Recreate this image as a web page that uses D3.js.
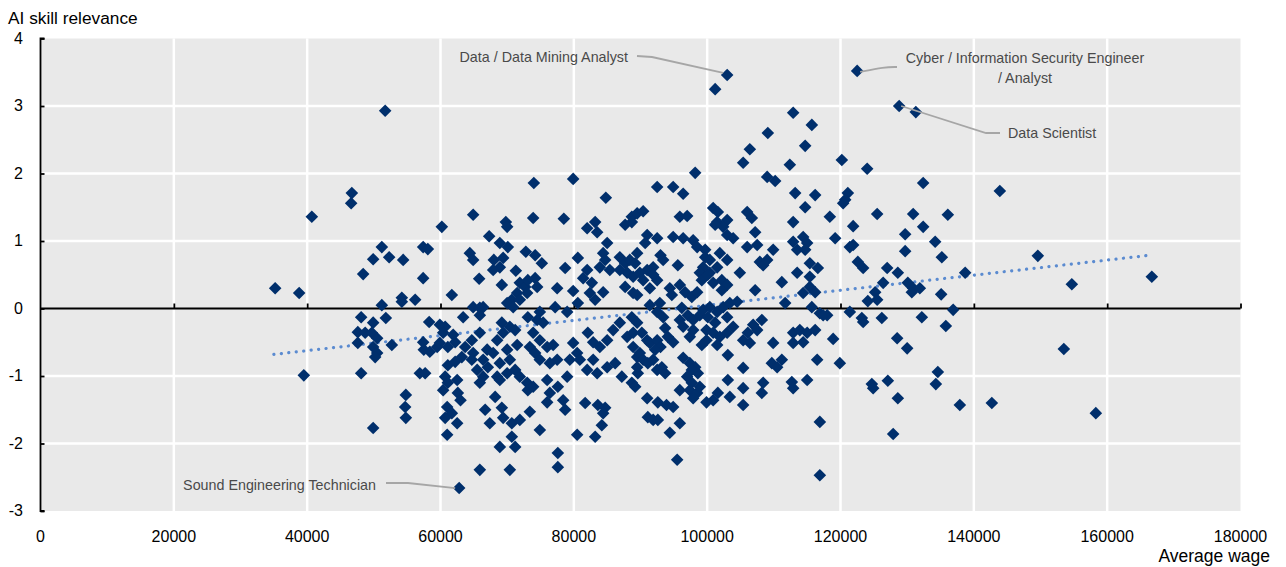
<!DOCTYPE html>
<html>
<head>
<meta charset="utf-8">
<script src="https://cdn.jsdelivr.net/npm/d3@7/dist/d3.min.js"></script>
<style>
html,body{margin:0;padding:0;background:#fff;}
svg{display:block;font-family:"Liberation Sans",Arial,sans-serif;}
</style>
</head>
<body>
<svg id="chart" width="1286" height="567"></svg>
<script>
// ---- data ----
const xTicks = [0,20000,40000,60000,80000,100000,120000,140000,160000,180000];
const yTicks = [-3,-2,-1,0,1,2,3,4];
const xLabel = "Average wage";
const yLabel = "AI skill relevance";

// occupations: [average wage, AI skill relevance]
const occupations = [
[35200,0.3],[38800,0.23],[40700,1.36],[39500,-0.99],[51700,2.93],[46700,1.71],[46600,1.56],[51200,0.91],[49900,0.73],[52300,0.76],
[54400,0.72],[48400,0.51],[57400,0.91],[58100,0.88],[57400,0.45],[51200,0.05],[54200,0.16],[54200,0.1],[56200,0.13],[48100,-0.13],
[51800,-0.14],[49900,-0.21],[47600,-0.35],[48700,-0.36],[49700,-0.36],[50500,-0.44],[49900,-0.57],[47600,-0.51],[50500,-0.66],[50200,-0.72],
[52700,-0.54],[48100,-0.96],[58300,-0.2],[57500,-0.61],[58400,-0.64],[59500,-0.57],[56900,-0.96],[57700,-0.96],[54800,-1.28],[54700,-1.46],
[54800,-1.62],[49900,-1.77],[60200,1.21],
[74000,1.86],[79900,1.92],[84800,1.64],[64900,1.39],[73900,1.34],[78500,1.33],[69800,1.28],[70000,1.21],[82000,1.19],[83200,1.28],
[83500,1.13],[87700,1.24],[88700,1.36],[89500,1.41],[67300,1.07],[68900,0.97],[70100,0.91],[64400,0.82],[64900,0.72],[72800,0.84],
[74200,0.79],[75200,0.67],[68000,0.72],[68900,0.61],[67900,0.57],[69400,0.75],[71300,0.56],[65800,0.44],[69200,0.35],[78700,0.6],
[80600,0.75],[85000,0.97],[84400,0.82],[84700,0.72],[83900,0.61],[85400,0.57],[86900,0.76],[87700,0.67],[88400,0.72],[89500,0.82],
[86900,0.57],[88000,0.53],[88900,0.47],[87700,0.32],[88900,0.23],[82000,0.57],[81400,0.45],[82700,0.38],[82400,0.23],[83200,0.13],
[84400,0.24],[77500,0.3],[79900,0.26],[80600,0.08],[79000,-0.05],[71900,0.38],[72700,0.32],[73100,0.42],[74200,0.45],[74500,0.32],
[71500,0.23],[70700,0.13],[70000,0.08],[70900,0.02],[71900,0.13],[73000,0.23],[61700,0.2],[64900,0.02],[65900,0.01],[66400,0.02],
[65900,-0.1],[63400,-0.13],[77200,0.02],[74900,-0.05],[74500,-0.17],[75400,-0.21],[73100,-0.13],[60700,-0.27],[60400,-0.36],[62200,-0.5],
[61100,-0.57],[59900,-0.51],[64700,-0.47],[63700,-0.57],[63200,-0.72],[64900,-0.66],[67000,-0.61],[66400,-0.76],[67900,-0.66],[69200,-0.21],
[69400,-0.36],[68500,-0.47],[70400,-0.27],[71200,-0.32],[71500,-0.54],[70000,-0.61],[70400,-0.76],[68900,-0.81],[73900,-0.36],[74900,-0.47],
[76000,-0.57],[73400,-0.57],[74200,-0.66],[74900,-0.76],[76900,-0.54],[77500,-0.76],[76400,-0.81],[79900,-0.51],[80500,-0.66],[79400,-0.76],
[80900,-0.76],[82100,-0.36],[82900,-0.5],[83900,-0.57],[85000,-0.47],[85900,-0.32],[86900,-0.21],[88000,-0.42],[88900,-0.57],[89500,-0.72],
[82900,-0.76],[82000,-0.91],[83500,-0.96],[85000,-0.87],[86200,-0.81],[87200,-1.01],[88700,-1.1],[89600,-0.96],[60700,-1.01],[61100,-1.1],
[60400,-1.21],[62500,-1.06],[62600,-1.25],[64700,-0.76],[65500,-0.91],[66400,-1.01],[65900,-1.1],[67100,-0.87],[68500,-1.01],[68900,-1.06],
[70000,-0.96],[71200,-0.91],[71900,-1.01],[73000,-1.1],[73100,-1.21],[73900,-1.16],[76000,-1.06],[77600,-1.16],[76400,-1.25],[79000,-1.01],
[63000,-1.36],[61000,-1.46],[61700,-1.55],[62500,-1.7],[60700,-1.62],[61000,-1.87],[66700,-1.5],[67400,-1.7],[69200,-1.47],[69400,-1.62],
[70700,-1.7],[71900,-1.65],[73400,-1.53],[68200,-1.31],[76000,-1.39],[78400,-1.36],[78700,-1.5],[74900,-1.8],[70700,-1.9],[71200,-2.05],
[68900,-2.05],[80500,-1.87],[83200,-1.9],[84200,-1.73],[81700,-1.4],[83600,-1.43],[84700,-1.47],[84400,-1.55],[77600,-2.14],[77600,-2.35],
[65900,-2.39],[70400,-2.39],[62800,-2.66],[61100,-0.84],[62200,-0.79],[59900,-0.24],[57400,-0.5],[61900,-0.39],[65900,-0.36],
[98200,2.01],[105400,2.16],[112400,2.13],[92500,1.8],[94900,1.8],[96400,1.7],[109000,1.95],[110200,1.89],[113200,1.71],[116200,1.68],
[114700,1.5],[90400,1.44],[88700,1.28],[95900,1.36],[97000,1.37],[100900,1.49],[101600,1.43],[106000,1.43],[106700,1.34],[101500,1.28],
[103000,1.31],[102400,1.21],[101200,1.24],[112900,1.28],[107200,1.13],[91000,1.09],[92500,1.04],[90700,0.97],[94900,1.06],[96400,1.04],
[97900,1.01],[98500,0.91],[99700,0.87],[103000,1.09],[103900,1.04],[106000,0.91],[107500,0.94],[109900,0.87],[112900,0.99],[114400,1.06],
[115000,0.97],[113500,0.87],[114700,0.87],[89200,0.67],[93000,0.79],[93400,0.72],[91900,0.61],[91000,0.57],[89900,0.53],[95600,0.64],
[99700,0.76],[100400,0.72],[101900,0.82],[103000,0.72],[101500,0.61],[99400,0.61],[98900,0.53],[100400,0.53],[107900,0.69],[108400,0.64],
[109000,0.72],[104900,0.53],[115400,0.67],[116600,0.6],[113500,0.53],[115400,0.47],[111200,0.39],[90400,0.42],[91400,0.3],[89500,0.2],
[92500,0.42],[91900,0.5],[94400,0.3],[94700,0.2],[95900,0.35],[96700,0.24],[97700,0.17],[98500,0.24],[99200,0.42],[100100,0.5],
[100900,0.38],[102200,0.42],[103000,0.35],[102200,0.27],[107200,0.27],[115400,0.32],[116200,0.24],[114400,0.23],[111700,0.08],[115700,0.02],
[116900,-0.07],[118000,-0.1],[91400,0.05],[92900,0.08],[92500,-0.05],[93400,-0.13],[96200,0.01],[97100,-0.1],[97900,-0.17],[98900,-0.1],
[99400,-0.02],[100400,0.02],[101500,-0.05],[100100,-0.13],[101200,-0.21],[99900,-0.32],[100900,-0.36],[101900,-0.42],[99900,-0.47],[99200,-0.54],
[101500,-0.54],[102400,0.02],[103400,0.08],[104500,0.1],[103000,-0.13],[103900,-0.27],[103000,-0.36],[108200,-0.17],[106900,-0.24],[107500,-0.32],
[106100,-0.36],[105400,-0.47],[106400,-0.51],[88700,-0.13],[89500,-0.21],[88900,-0.36],[90200,-0.36],[91000,-0.47],[91400,-0.51],[92500,-0.47],
[93000,-0.57],[92200,-0.61],[94900,-0.5],[94100,-0.42],[93700,-0.29],[96400,-0.27],[95900,-0.17],[97400,-0.42],[97900,-0.32],[103100,-0.69],
[109900,-0.51],[112900,-0.36],[113900,-0.32],[115000,-0.36],[116200,-0.32],[112900,-0.51],[114400,-0.5],[116500,-0.76],[89900,-0.66],[90400,-0.76],
[89500,-0.87],[91100,-0.81],[91900,-0.76],[93200,-0.87],[93700,-0.96],[92500,-0.91],[96400,-0.73],[97400,-0.81],[98200,-0.87],[98600,-0.96],
[97700,-0.91],[105400,-0.88],[109700,-0.81],[111200,-0.76],[110500,-0.87],[89200,-1.16],[97000,-1.01],[97700,-1.1],[95900,-1.21],[97400,-1.21],
[98500,-1.25],[98900,-1.16],[97900,-1.33],[103100,-1.06],[103400,-1.31],[101600,-1.25],[100900,-1.36],[99900,-1.39],[105400,-1.18],[105400,-1.43],
[108400,-1.1],[108200,-1.25],[112700,-1.09],[112900,-1.18],[115000,-1.06],[91000,-1.33],[92600,-1.39],[93900,-1.43],[94900,-1.46],[91100,-1.61],
[91900,-1.65],[92600,-1.65],[94400,-1.84],[95900,-1.7],[116900,-1.68],[95500,-2.24],[116900,-2.47],
[128800,3.0],[131300,2.91],[120200,2.2],[124000,2.07],[132400,1.86],[143900,1.74],[121100,1.71],[120700,1.61],[120400,1.56],[118400,1.36],
[125500,1.4],[130900,1.4],[136100,1.39],[121900,1.22],[132400,1.21],[119200,1.04],[129700,1.1],[134200,0.99],[121400,0.91],[121900,0.94],
[129700,0.85],[135200,0.76],[122600,0.69],[123400,0.6],[127000,0.6],[128600,0.53],[130100,0.38],[130900,0.3],[131900,0.3],[130700,0.24],
[126400,0.38],[125200,0.24],[125500,0.13],[124100,0.11],[135100,0.21],[138700,0.53],[117400,-0.1],[121400,-0.05],[123200,-0.14],[123400,-0.2],
[126200,-0.14],[132200,-0.13],[136900,-0.02],[135800,-0.26],[118900,-0.45],[128500,-0.44],[130000,-0.59],[119900,-0.81],[124700,-1.12],[124900,-1.18],
[127100,-1.07],[128600,-1.33],[134600,-0.94],[134300,-1.12],[137900,-1.43],[142700,-1.4],[127900,-1.86],[122500,3.52],[103000,3.46],[101200,3.25],
[149600,0.78],[154700,0.36],[166700,0.47],[153500,-0.6],[158300,-1.55],
[112900,2.9],[115700,2.72],[109100,2.6],[114700,2.41],[106400,2.36]
];

// linear trend (start and end of the dotted fit line)
const trendX = [35000,166500];
const trendY = [-0.68,0.79];

// labelled occupations
const callouts = [
  {lines:["Data / Data Mining Analyst"], point:[103000,3.46]},
  {lines:["Cyber / Information Security Engineer","/ Analyst"], point:[122500,3.52]},
  {lines:["Data Scientist"], point:[128800,3.0]},
  {lines:["Sound Engineering Technician"], point:[62800,-2.66]}
];

// ---- layout ----
const svg = d3.select("#chart");
const L = 40.5, R = 1240.5, T = 38.5, B = 511;
const x = d3.scaleLinear().domain([0,180000]).range([L,R]);
const y = d3.scaleLinear().domain([-3,4]).range([B,T]);

svg.append("rect").attr("x",L).attr("y",T).attr("width",R-L).attr("height",B-T).attr("fill","#e9e9e9");

// grid
const g = svg.append("g");
g.selectAll("line.vg").data(xTicks.filter(d=>d>0 && d<180000)).enter().append("line")
  .attr("x1",d=>x(d)).attr("x2",d=>x(d)).attr("y1",T).attr("y2",B)
  .attr("stroke","#fff").attr("stroke-width",2.5);
g.selectAll("line.hg").data(yTicks.filter(d=>d!==0 && d>-3 && d<4)).enter().append("line")
  .attr("x1",L).attr("x2",R).attr("y1",d=>y(d)).attr("y2",d=>y(d))
  .attr("stroke","#fff").attr("stroke-width",2.5);

// y axis (ticks pointing into plot)
const yAxis = d3.axisRight(y).tickValues(yTicks).tickSize(4).tickFormat("");
const ya = svg.append("g").attr("transform",`translate(${L},0)`).call(yAxis);
ya.select(".domain").attr("d",`M4,${T}H0V${B}H4`).attr("stroke","#000").attr("stroke-width",1.8).attr("fill","none");
ya.selectAll(".tick line").attr("stroke","#000").attr("stroke-width",1.8);
svg.append("g").selectAll("text").data(yTicks).enter().append("text")
  .attr("x",23).attr("y",d=>y(d)+5).attr("text-anchor","end")
  .attr("font-size",16).attr("fill","#000").text(d=>d);

// x axis at zero (ticks pointing up)
const xAxis = d3.axisTop(x).tickValues(xTicks.filter(d=>d>0)).tickSize(5).tickFormat("");
const xa = svg.append("g").attr("transform",`translate(0,${y(0)})`).call(xAxis);
xa.select(".domain").attr("d",`M${L},0H${R}`).attr("stroke","#000").attr("stroke-width",1.8);
xa.selectAll(".tick line").attr("stroke","#000").attr("stroke-width",1.8);
svg.append("g").selectAll("text").data(xTicks).enter().append("text")
  .attr("x",d=>x(d)).attr("y",542).attr("text-anchor","middle")
  .attr("font-size",16).attr("fill","#000").text(d=>d);

// titles
svg.append("text").attr("x",8).attr("y",24).attr("font-size",17.3).attr("fill","#000").text(yLabel);
svg.append("text").attr("x",1270).attr("y",562).attr("text-anchor","end").attr("font-size",17.5).attr("fill","#000").text(xLabel);

// trend line
svg.append("line")
  .attr("x1",x(trendX[0])).attr("y1",y(trendY[0])).attr("x2",x(trendX[1])).attr("y2",y(trendY[1]))
  .attr("stroke","#5b8bd0").attr("stroke-width",3.2).attr("stroke-linecap","round")
  .attr("stroke-dasharray","0.1,7.4");

// points
const s = 6.3;
svg.append("g").selectAll("path").data(occupations).enter().append("path")
  .attr("transform",d=>`translate(${x(d[0])},${y(d[1])})`)
  .attr("d",`M0,${-s}L${s},0L0,${s}L${-s},0Z`)
  .attr("fill","#002f6c");

// callouts
const ann = svg.append("g").attr("font-size",14.3).attr("fill","#4a4a4a");
const lineStyle = sel => sel.attr("fill","none").attr("stroke","#a6a6a6").attr("stroke-width",1.8);
function pt(c){return [x(c.point[0]),y(c.point[1])];}
// Data / Data Mining Analyst
{ const c=callouts[0], p=pt(c);
  ann.append("text").attr("x",628).attr("y",62).attr("text-anchor","end").text(c.lines[0]);
  ann.append("path").attr("d",d3.line()([[637,56],[652,57],[p[0]-4,p[1]-2]])).call(lineStyle); }
// Cyber
{ const c=callouts[1], p=pt(c);
  ann.append("text").attr("x",1025).attr("y",63).attr("text-anchor","middle").text(c.lines[0]);
  ann.append("text").attr("x",1025).attr("y",83).attr("text-anchor","middle").text(c.lines[1]);
  ann.append("path").attr("d",d3.line().curve(d3.curveBasis)([[897,67],[884,67],[p[0]+3,p[1]+1]])).call(lineStyle); }
// Data Scientist
{ const c=callouts[2], p=pt(c);
  ann.append("text").attr("x",1008).attr("y",138).text(c.lines[0]);
  ann.append("path").attr("d",d3.line()([[1000,133],[986,133],[p[0]+2,p[1]]])).call(lineStyle); }
// Sound Engineering Technician
{ const c=callouts[3], p=pt(c);
  ann.append("text").attr("x",376).attr("y",490).attr("text-anchor","end").text(c.lines[0]);
  ann.append("path").attr("d",d3.line()([[386,483],[408,483],[p[0]-4,p[1]]])).call(lineStyle); }
</script>
</body>
</html>
